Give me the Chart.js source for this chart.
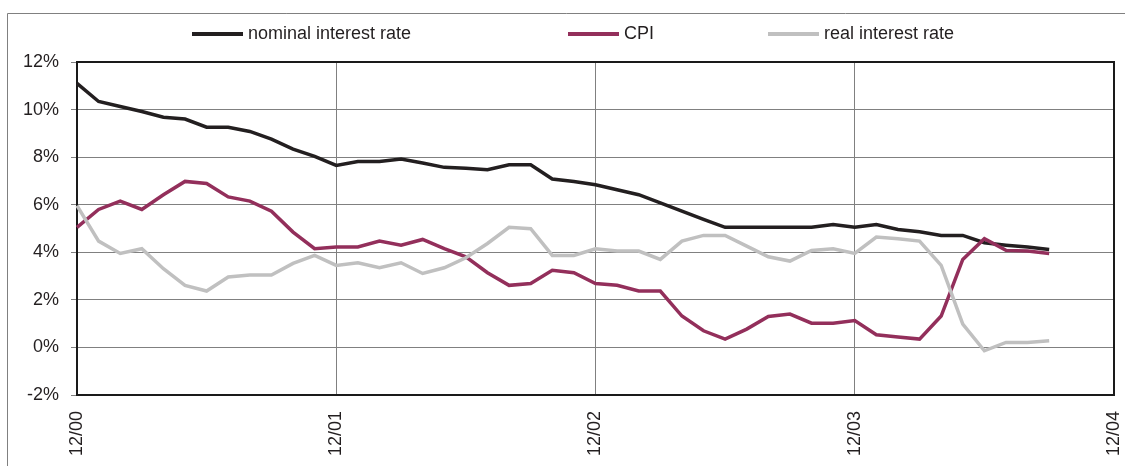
<!DOCTYPE html>
<html>
<head>
<meta charset="utf-8">
<title>Interest rates and CPI</title>
<script src="https://cdn.jsdelivr.net/npm/chart.js@4.4.1/dist/chart.umd.min.js"></script>
<style>
  html, body { margin: 0; padding: 0; background: #fff; }
  #wrap { width: 1125px; height: 466px; }
</style>
</head>
<body>
<div id="wrap"><canvas id="rates" width="1125" height="466"></canvas></div>
<script>
// monthly categories, Dec 2000 .. Dec 2004
const months = [
  '12/00', '1/01', '2/01', '3/01', '4/01', '5/01', '6/01', '7/01', '8/01', '9/01', '10/01', '11/01',
  '12/01', '1/02', '2/02', '3/02', '4/02', '5/02', '6/02', '7/02', '8/02', '9/02', '10/02', '11/02',
  '12/02', '1/03', '2/03', '3/03', '4/03', '5/03', '6/03', '7/03', '8/03', '9/03', '10/03', '11/03',
  '12/03', '1/04', '2/04', '3/04', '4/04', '5/04', '6/04', '7/04', '8/04', '9/04', '10/04', '11/04',
  '12/04'
];
const tickLabels = ['12/00', '12/01', '12/02', '12/03', '12/04'];

// values in percent (12/00 .. 9/04)
const nominalRate = [
  11.1, 10.34, 10.13, 9.92, 9.68, 9.6, 9.26, 9.26, 9.08, 8.76, 8.34, 8.03,
  7.65, 7.82, 7.82, 7.92, 7.75, 7.57, 7.53, 7.47, 7.68, 7.68, 7.08, 6.98,
  6.84, 6.63, 6.42, 6.08, 5.73, 5.38, 5.05, 5.05, 5.05, 5.05, 5.05, 5.17,
  5.05, 5.17, 4.96, 4.86, 4.71, 4.71, 4.4, 4.3, 4.22, 4.12
];
const cpi = [
  5.05, 5.8, 6.15, 5.8, 6.42, 6.98, 6.89, 6.33, 6.15, 5.73, 4.85, 4.15,
  4.22, 4.22, 4.47, 4.3, 4.54, 4.15, 3.81, 3.14, 2.61, 2.69, 3.24, 3.14,
  2.69, 2.61, 2.37, 2.37, 1.32, 0.7, 0.35, 0.77, 1.3, 1.4, 1.02, 1.02,
  1.13, 0.53, 0.44, 0.35, 1.32, 3.7, 4.57, 4.08, 4.05, 3.95
];
const realRate = [
  5.96, 4.47, 3.95, 4.15, 3.31, 2.61, 2.37, 2.96, 3.04, 3.04, 3.53, 3.87,
  3.45, 3.56, 3.35, 3.56, 3.11, 3.35, 3.77, 4.37, 5.05, 4.99, 3.87, 3.87,
  4.15, 4.05, 4.05, 3.7, 4.47, 4.71, 4.71, 4.26, 3.81, 3.63, 4.08, 4.15,
  3.95, 4.64, 4.57, 4.47, 3.45, 0.98, -0.14, 0.21, 0.21, 0.28
];

const seriesNames = ['nominal interest rate', 'CPI', 'real interest rate'];
const seriesColors = ['#231f20', '#932f5b', '#c0c0c0'];

const FONT = { family: '"Liberation Sans", Arial, sans-serif', size: 18 };
const TEXT = '#231f20';
const GRID = '#808080';

// the original legend is not evenly spaced, so it is drawn by hand
const legendX = [192, 568, 768];

const excelLook = {
  id: 'excelLook',
  beforeDraw(chart) {
    const ctx = chart.ctx;
    ctx.save();
    ctx.fillStyle = '#fff';
    ctx.fillRect(0, 0, chart.width, chart.height);
    // outer chart frame (only top and left are in view)
    ctx.strokeStyle = GRID;
    ctx.lineWidth = 1;
    ctx.beginPath();
    ctx.moveTo(7.5, chart.height);
    ctx.lineTo(7.5, 13.5);
    ctx.lineTo(chart.width, 13.5);
    ctx.stroke();
    ctx.restore();
  },
  beforeDatasetsDraw(chart) {
    const { ctx, chartArea: a } = chart;
    ctx.save();
    ctx.strokeStyle = '#1a1a1a';
    ctx.lineWidth = 2;
    ctx.strokeRect(a.left, a.top, a.right - a.left, a.bottom - a.top);
    ctx.restore();
  },
  afterDraw(chart) {
    const ctx = chart.ctx;
    ctx.save();
    ctx.font = FONT.size + 'px ' + FONT.family;
    ctx.textBaseline = 'middle';
    chart.data.datasets.forEach((ds, i) => {
      const x = legendX[i];
      ctx.fillStyle = ds.borderColor;
      ctx.fillRect(x, 32, 51, 4);
      ctx.fillStyle = TEXT;
      ctx.fillText(ds.label, x + 56, 34);
    });
    ctx.restore();
  }
};

function line(label, values, color, order) {
  return {
    label: label,
    data: values,
    borderColor: color,
    backgroundColor: color,
    borderWidth: 3.5,
    pointRadius: 0,
    pointHoverRadius: 0,
    tension: 0,
    fill: false,
    order: order
  };
}

new Chart(document.getElementById('rates'), {
  type: 'line',
  data: {
    labels: months,
    datasets: [
      line(seriesNames[0], nominalRate, seriesColors[0], 2),
      line(seriesNames[1], cpi, seriesColors[1], 1),
      line(seriesNames[2], realRate, seriesColors[2], 0)
    ]
  },
  options: {
    responsive: false,
    animation: false,
    devicePixelRatio: 1,
    layout: { padding: { top: 62, right: 11, left: 0, bottom: 0 } },
    plugins: {
      legend: { display: false },
      tooltip: { enabled: false }
    },
    scales: {
      x: {
        type: 'category',
        offset: false,
        border: { display: false },
        grid: { color: GRID, lineWidth: 1, drawTicks: false },
        ticks: {
          autoSkip: false,
          minRotation: 90,
          maxRotation: 90,
          padding: 16,
          color: TEXT,
          font: FONT,
          callback: function (value) {
            const l = this.getLabelForValue(value);
            return tickLabels.includes(l) ? l : null;
          }
        },
        afterFit: scale => {
          scale.height = 71;
          // rotated end labels fit in the margin, no extra room needed
          scale.paddingLeft = 0;
          scale.paddingRight = 0;
        }
      },
      y: {
        min: -2,
        max: 12,
        border: { display: false },
        grid: { color: GRID, lineWidth: 1, tickLength: 6 },
        ticks: {
          stepSize: 2,
          padding: 12,
          color: TEXT,
          font: FONT,
          callback: v => v + '%'
        },
        afterFit: scale => { scale.width = 77; }
      }
    }
  },
  plugins: [excelLook]
});
</script>
</body>
</html>
